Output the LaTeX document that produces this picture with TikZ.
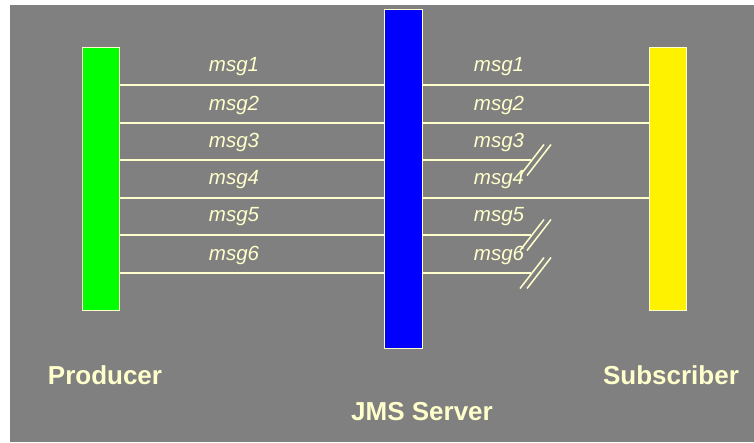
\documentclass[tikz,border=0pt]{standalone}
\usepackage{fontspec}
\setmainfont{Liberation Sans}
\usetikzlibrary{calc}
\definecolor{cream}{HTML}{FFFFCC}
\definecolor{panel}{HTML}{808080}
\begin{document}
\begin{tikzpicture}[x=1pt,y=-1pt,
  bar/.style={draw=cream,line width=1.5pt,minimum width=37pt,inner sep=0pt},
  msgline/.style={draw=cream,line width=1.5pt},
  msglabel/.style={text=cream,font=\fontsize{20.5}{23}\selectfont\itshape,inner sep=0pt},
  role/.style={text=cream,font=\fontsize{26}{30}\selectfont\bfseries,inner sep=0pt},
  cut/.style={draw=cream,line width=1.5pt}]
\useasboundingbox (0,0) rectangle (754,442);
\fill[panel] (10,5) rectangle (754,442);

% the three parties
\node[bar,fill=green,minimum height=263pt] (prod) at (101,179) {};
\node[bar,fill=blue,minimum height=339pt,minimum width=38pt] (srv) at (403.5,179) {};
\node[bar,fill=yellow,minimum height=263pt] (sub) at (668,179) {};

\node[role] (lprod) at (105,375) {Producer};
\node[role] (lsrv) at (422,412) {JMS Server};
\node[role] (lsub) at (671,375) {Subscriber};

% producer -> server: all six messages
\foreach \y/\n in {85/1,123/2,160/3,198/4,235/5,273/6}{
  \draw[msgline] (prod.east |- 0,\y) -- (srv.west |- 0,\y);
  \node[msglabel] (pl\n) at (234,\y-18) {msg\n};
  \node[msglabel] (sl\n) at (499,\y-18) {msg\n};
}

% server -> subscriber: delivered messages
\foreach \y in {85,123,198}{
  \draw[msgline] (srv.east |- 0,\y) -- (sub.west |- 0,\y);
}

% server -> subscriber: lost messages, broken off
\foreach \y/\n in {160/3,235/5,273/6}{
  \coordinate (brk\n) at (531,\y);
  \draw[msgline] (srv.east |- 0,\y) -- (brk\n);
  \draw[cut] ($(brk\n)+(-11,15.5)$) -- ++(24,-31);
  \draw[cut] ($(brk\n)+(-4,15.5)$) -- ++(24,-31);
}
\end{tikzpicture}
\end{document}
